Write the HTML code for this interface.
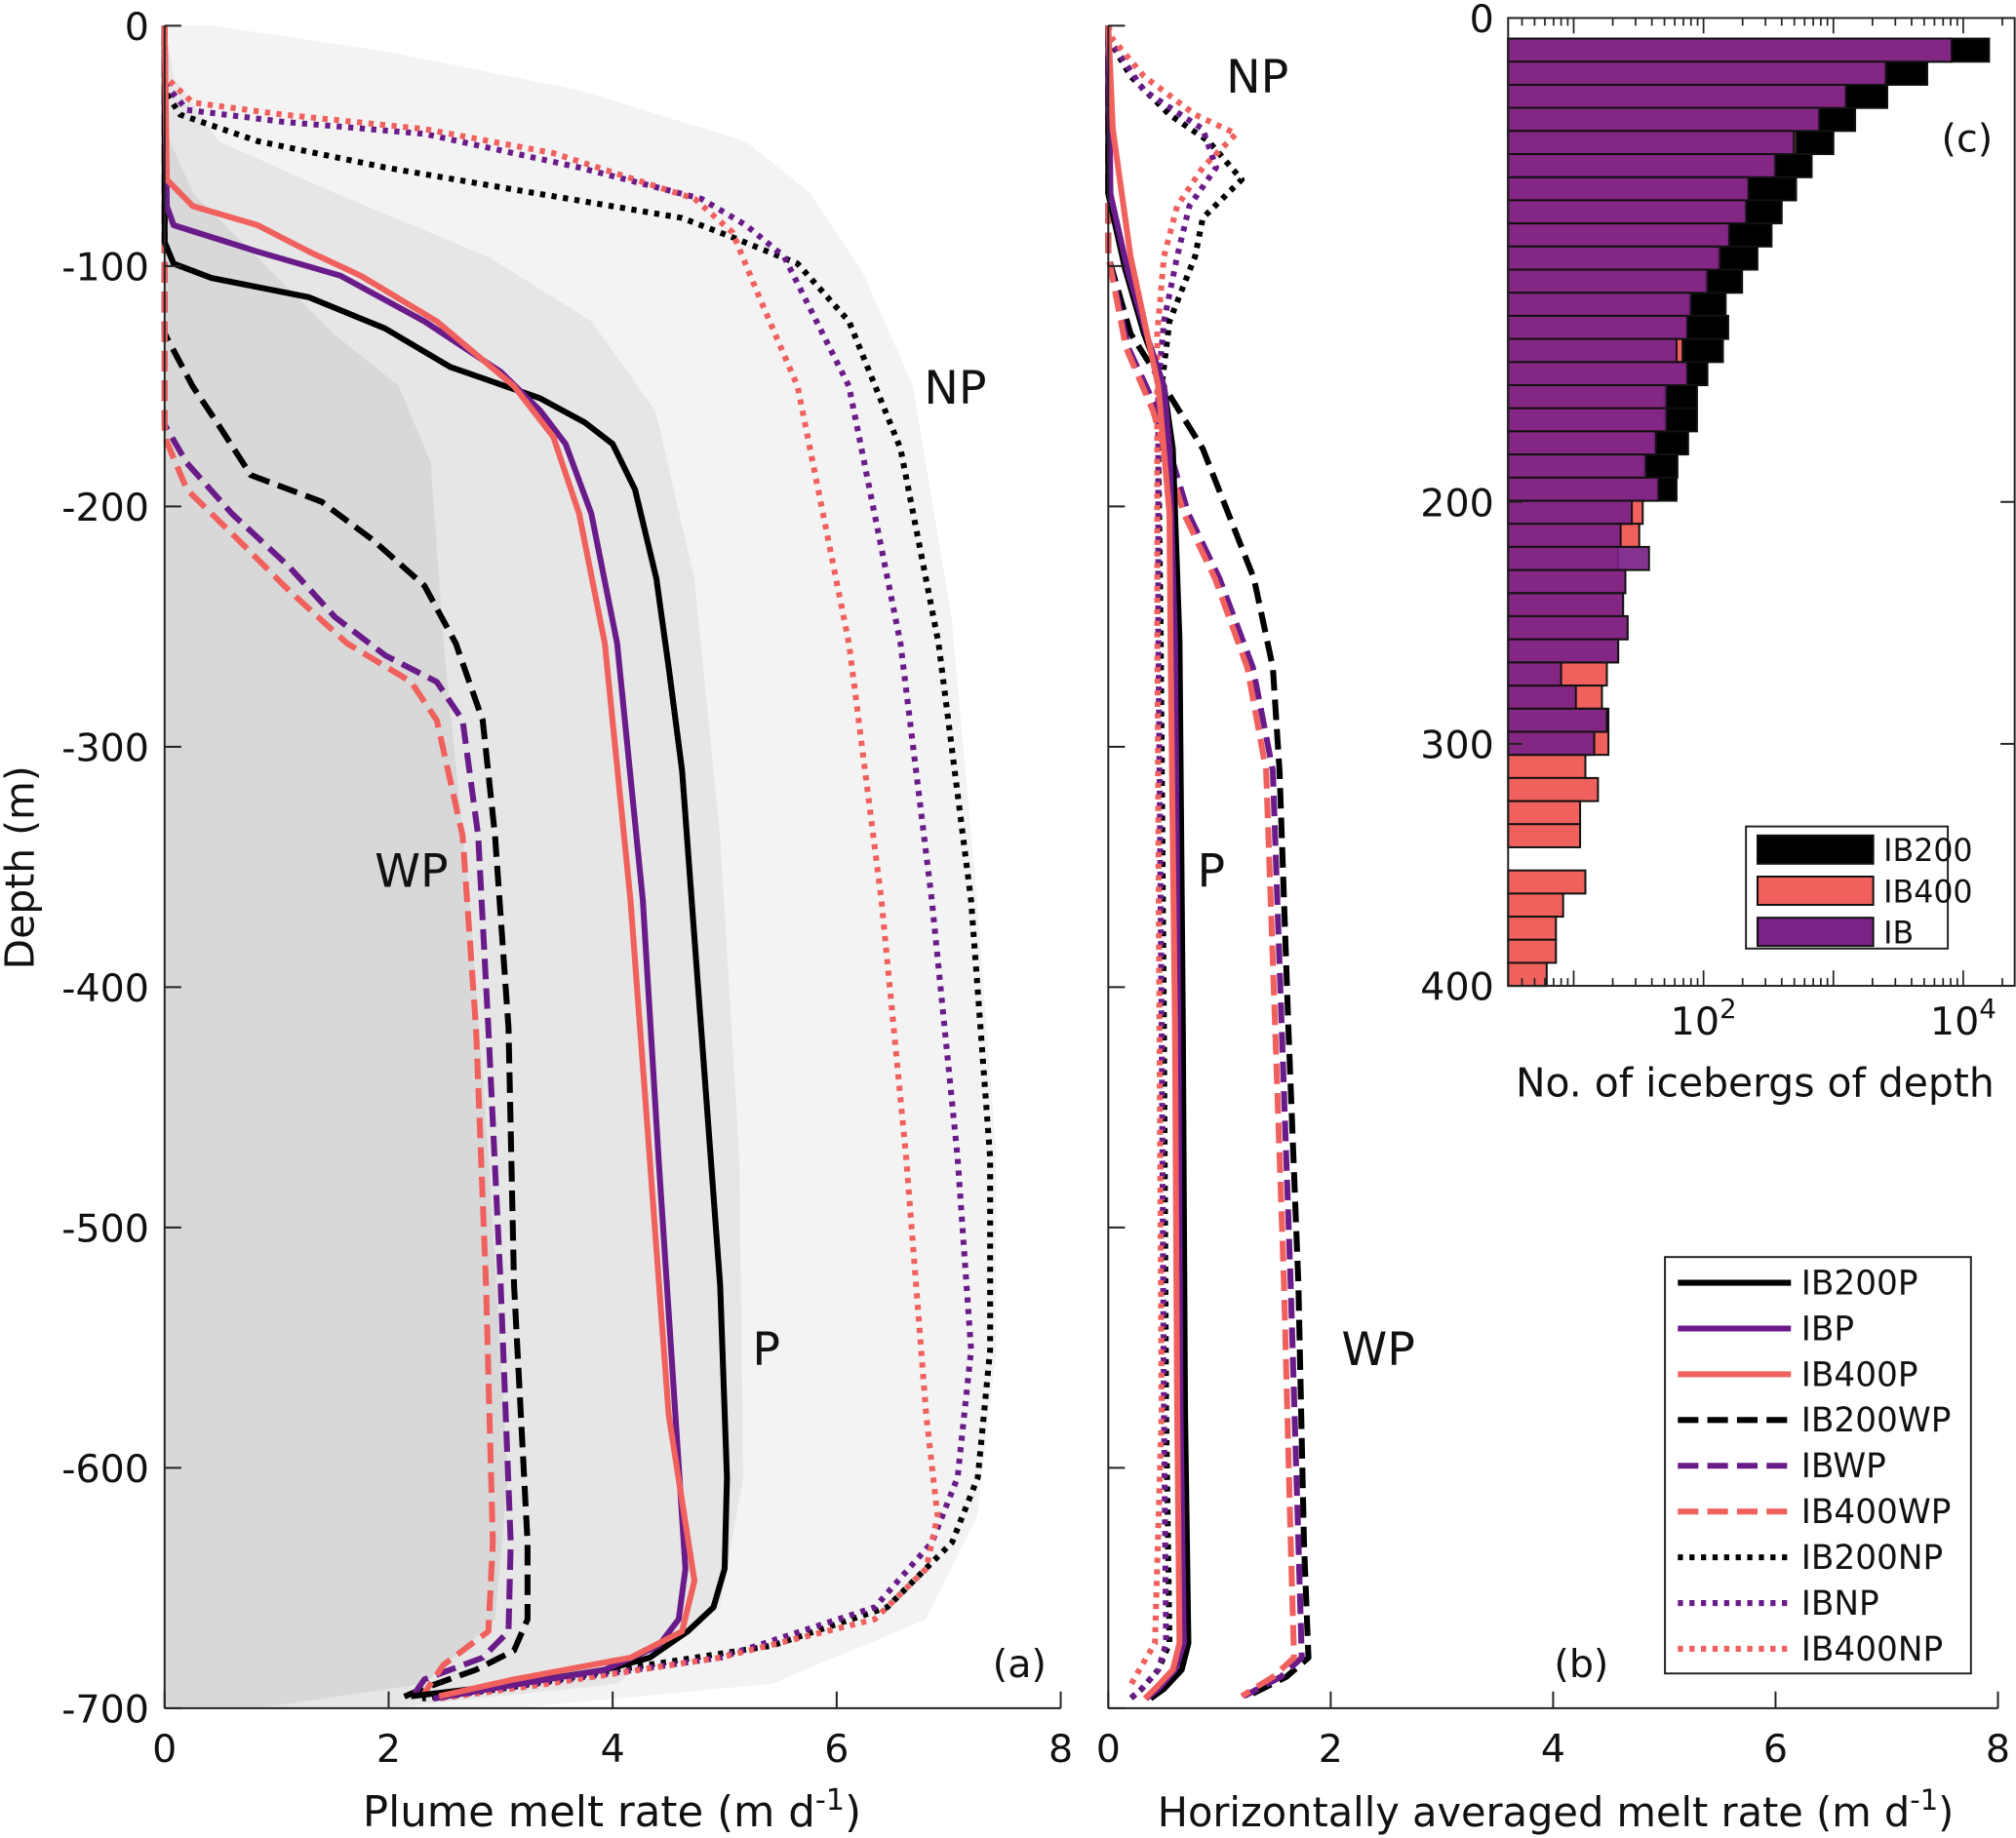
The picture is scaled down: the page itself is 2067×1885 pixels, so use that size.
<!DOCTYPE html>
<html><head><meta charset="utf-8">
<style>
html,body{margin:0;padding:0;background:#fff;}
svg{display:block;font-family:"DejaVu Sans","Liberation Sans",sans-serif;}
</style></head>
<body>
<svg id="chart" width="2067" height="1885" viewBox="0 0 1568 1430" xmlns="http://www.w3.org/2000/svg">
<g id="shade"></g>
<g id="pa"></g>
<g id="pb"></g>
<g id="pc"></g>
<g id="axes"></g>
</svg>
<script>
// ---------- data ----------
const seriesNames = ["IB200P","IBP","IB400P","IB200WP","IBWP","IB400WP","IB200NP","IBNP","IB400NP"];
const seriesColors = ["#000000","#6a1b8a","#f0605d","#000000","#6a1b8a","#f0605d","#000000","#6a1b8a","#f0605d"];
const seriesStyle = ["solid","solid","solid","dash","dash","dash","dot","dot","dot"];
// panel (a): depth (m) and plume melt rate (m/d)
const aDepth = [
 [0,90,99,105,113,126,142,155,165,174,193,230,267,310,417,524,604,642,658,668,679,684,690,695],
 [0,75,83,94,104,123,144,160,174,203,257,364,471,578,642,663,674,684,692,696],
 [0,64,75,83,94,104,123,150,171,203,257,364,471,578,647,668,679,688,695],
 [0,128,150,166,187,198,214,233,257,289,337,417,524,631,663,676,684,692,696],
 [0,166,182,203,225,246,262,273,289,337,417,524,631,668,679,688,696],
 [0,171,193,214,235,257,273,289,337,417,524,631,668,682,695],
 [0,27,37,48,59,70,80,88,99,123,176,257,364,471,551,604,631,658,674,684,692,696],
 [0,24,35,40,45,59,72,83,96,150,257,364,471,551,604,631,658,679,690,696],
 [0,21,32,37,43,53,72,86,112,150,257,364,471,578,620,642,663,679,690,696]
];
const aRate = [
 [0,0,0.08,0.42,1.29,1.97,2.55,3.35,3.75,4.0,4.2,4.39,4.5,4.62,4.79,4.96,5.02,5.0,4.9,4.67,4.33,3.93,3.12,2.2],
 [0,0.02,0.08,0.83,1.57,2.32,3.0,3.35,3.58,3.81,4.04,4.27,4.41,4.56,4.65,4.59,4.41,3.93,2.9,2.4],
 [0,0.02,0.25,0.83,1.29,1.75,2.43,3.12,3.47,3.7,3.93,4.16,4.33,4.5,4.73,4.62,4.16,3.12,2.45],
 [0,0,0.25,0.48,0.77,1.4,1.86,2.32,2.6,2.84,2.95,3.07,3.12,3.24,3.24,3.12,2.78,2.3,2.1],
 [0,0,0.2,0.6,1.11,1.52,1.97,2.43,2.66,2.8,2.89,3.0,3.09,3.07,2.84,2.32,2.2],
 [0,0,0.2,0.66,1.11,1.63,2.2,2.43,2.66,2.78,2.87,2.93,2.89,2.49,2.3],
 [0,0,0.14,0.83,1.97,3.35,4.62,5.07,5.65,6.11,6.57,6.91,7.2,7.37,7.37,7.26,7.03,6.45,5.42,4.04,3.0,2.3],
 [0,0,0.2,1.06,2.32,3.7,4.79,5.19,5.53,6.11,6.57,6.85,7.08,7.2,7.08,6.85,6.34,4.96,3.3,2.4],
 [0,0,0.25,1.06,2.32,3.47,4.73,5.07,5.3,5.65,6.11,6.4,6.62,6.8,6.9,6.8,6.34,4.96,3.4,2.45]
];
// panel (b): depth (m) and horizontally averaged melt rate (m/d)
const bDepth = [
 [0,70,101,128,150,176,256,416,577,673,684,692,696],
 [0,70,101,128,150,176,256,416,577,673,684,692,696],
 [0,43,96,150,203,256,416,577,673,684,692,696],
 [0,96,128,150,176,203,230,267,310,417,524,631,679,687,695],
 [0,96,134,160,203,230,267,310,417,524,631,679,687,695],
 [0,96,134,160,203,230,267,310,417,524,631,679,687,695],
 [0,5,21,37,48,64,80,96,123,150,176,250,416,577,673,684,692,696],
 [0,5,27,43,59,75,96,123,150,250,416,577,673,684,692,696],
 [0,5,21,37,45,59,75,96,128,166,250,416,577,673,684,692,696]
];
const bRate = [
 [0,0,0.15,0.32,0.5,0.58,0.64,0.67,0.69,0.72,0.66,0.5,0.38],
 [0,0.02,0.17,0.34,0.5,0.55,0.6,0.63,0.65,0.68,0.6,0.45,0.34],
 [0,0.04,0.2,0.45,0.55,0.56,0.6,0.62,0.64,0.58,0.42,0.33],
 [0,0,0.2,0.5,0.85,1.08,1.31,1.48,1.54,1.62,1.71,1.76,1.8,1.6,1.25],
 [0,0,0.18,0.44,0.72,1.0,1.3,1.48,1.56,1.64,1.71,1.74,1.55,1.22],
 [0,0,0.16,0.4,0.68,0.96,1.25,1.42,1.5,1.58,1.64,1.67,1.48,1.2],
 [0,0,0.2,0.55,0.9,1.2,0.85,0.78,0.55,0.48,0.45,0.47,0.5,0.52,0.55,0.45,0.3,0.2],
 [0,0,0.32,0.85,0.97,0.73,0.62,0.5,0.45,0.45,0.48,0.5,0.52,0.45,0.3,0.2],
 [0,0.03,0.32,0.78,1.15,0.85,0.62,0.5,0.44,0.44,0.44,0.46,0.48,0.42,0.28,0.18]
];
// panel (c): iceberg counts per depth bin
const binCount = 41;
const binStart = 8.5;
const binWidth = 9.55;
const countIB200 = [15800,5280,2600,1470,1000,680,516,400,334,260,198,148,155,141,107,89,89,76,63,62,32,0,0,0,0,0,0,0,0,0,0,0,0,0,0,0,0,0,0,0,0];
const countIB400 = [8100,2500,1240,770,516,350,220,210,155,130,105,78,74,69,74,50,50,42,35,44,34,32,22,25,24,26,22,18,16.5,18.5,18.5,12.3,15.4,11.2,11.2,0,12.3,8.3,7.3,7.3,6.2];
const countIB = [8150,2540,1250,780,495,358,222,213,158,134,107,80,75,62,75,52,52,43,36,45,28,23,38,25,24,26,22,8,10.4,18,14.4,0,0,0,0,0,0,0,0,0,0];
const aXTicks = [0,2,4,6,8];
const yTicks = [0,-100,-200,-300,-400,-500,-600,-700];
const cYTicks = [0,200,300,400];

// ---------- scales ----------
const NS = "http://www.w3.org/2000/svg";
const Y0 = 20, Y1 = 1329;
const yA = d => Y0 + (d / 700) * (Y1 - Y0);
const xA = v => 128 + v * (825 - 128) / 8;
const xB = v => 862 + v * (1554 - 862) / 8;
const yC = d => 14 + d * (767 - 14) / 400;
const xC = c => 1123 + Math.log10(c) * 101;
const C_LEFT = 1173, C_RIGHT = 1567, C_TOP = 14, C_BOT = 767;

function mk(tag, attrs, parent, text){
  const e = document.createElementNS(NS, tag);
  for (const k in attrs) e.setAttribute(k, attrs[k]);
  if (text !== undefined) e.textContent = text;
  parent.appendChild(e);
  return e;
}
const dashFor = s => s === "dash" ? "16,7" : (s === "dot" ? "4,5" : "none");

// ---------- shading (panel a) ----------
const shade = document.getElementById("shade");
const npEnv = [[165,20],[300,40],[450,70],[580,110],[630,150],[670,210],[710,300],[740,480],[760,700],[775,900],[775,1050],[760,1180],[720,1260],[600,1310],[400,1329],[128,1329],[128,20]];
const pEnv = [[128,20],[135,60],[170,110],[260,150],[380,200],[460,250],[510,320],[540,450],[560,650],[575,900],[578,1150],[560,1250],[480,1310],[300,1329],[128,1329]];
const wpEnv = [[128,100],[150,150],[200,200],[260,260],[310,300],[335,360],[345,500],[365,700],[380,900],[395,1150],[385,1260],[330,1310],[200,1329],[128,1329]];
[[npEnv,"#f3f3f3","np-envelope"],[pEnv,"#e6e6e6","p-envelope"],[wpEnv,"#d8d8d8","wp-envelope"]].forEach(([pts,col,nm])=>{
  const p = mk("polygon",{points:pts.map(q=>q.join(",")).join(" "),fill:col},shade);
  
  
});

// ---------- lines ----------
function drawLines(gid, depths, rates, xs, prefix){
  const g = document.getElementById(gid);
  const order = [6,7,8,3,4,5,0,1,2];
  order.forEach(i=>{
    const pts = depths[i].map((d,j)=> xs(rates[i][j]).toFixed(1)+","+yA(d).toFixed(1)).join(" ");
    const pl = mk("polyline",{points:pts,fill:"none",stroke:seriesColors[i],"stroke-width":4.6,"stroke-dasharray":dashFor(seriesStyle[i]),"stroke-linejoin":"round"},g);
    
    
  });
}
drawLines("pa", aDepth, aRate, xA, "plume-line");
drawLines("pb", bDepth, bRate, xB, "avg-line");

// ---------- bars (panel c) ----------
const pc = document.getElementById("pc");
function drawBars(arr, fill, op, nm){
  for (let i=0;i<binCount;i++){
    if (!arr[i] || arr[i] <= 0) continue;
    const top = yC(binStart + i*binWidth);
    const h = yC(binStart + (i+1)*binWidth) - top;
    const w = Math.max(0, xC(arr[i]) - C_LEFT);
    const r = mk("rect",{x:C_LEFT,y:top.toFixed(1),width:w.toFixed(1),height:h.toFixed(1),fill:fill,"fill-opacity":op,stroke:"#111","stroke-width":1.5},pc);
    
    
  }
}
drawBars(countIB200,"#000000",1,"ib200");
drawBars(countIB400,"#f0605d",1,"ib400");
drawBars(countIB,"#7b2287",0.92,"ib");

// ---------- axes ----------
const ax = document.getElementById("axes");
function txt(x,y,s,anchor,size,name){
  const t = mk("text",{x:x,y:y,"font-size":size||30,"text-anchor":anchor||"middle",fill:"#111"},ax,s);
  
  
  return t;
}
mk("line",{x1:128,y1:Y0,x2:128,y2:Y1,stroke:"#222","stroke-width":1.5},ax);
mk("line",{x1:128,y1:Y1,x2:825,y2:Y1,stroke:"#222","stroke-width":1.5},ax);
mk("line",{x1:862,y1:Y0,x2:862,y2:Y1,stroke:"#222","stroke-width":1.5},ax);
mk("line",{x1:862,y1:Y1,x2:1554,y2:Y1,stroke:"#222","stroke-width":1.5},ax);
yTicks.forEach(t=>{
  const y = yA(-t);
  mk("line",{x1:128,y1:y,x2:141,y2:y,stroke:"#222","stroke-width":1.5},ax);
  mk("line",{x1:862,y1:y,x2:875,y2:y,stroke:"#222","stroke-width":1.5},ax);
  txt(116,y+11,String(t),"end",30,"y-tick-label");
});
aXTicks.forEach(t=>{
  mk("line",{x1:xA(t),y1:Y1,x2:xA(t),y2:Y1-13,stroke:"#222","stroke-width":1.5},ax);
  txt(xA(t),Y1+42,String(t),"middle",30,"x-tick-label-a");
  mk("line",{x1:xB(t),y1:Y1,x2:xB(t),y2:Y1-13,stroke:"#222","stroke-width":1.5},ax);
  txt(xB(t),Y1+42,String(t),"middle",30,"x-tick-label-b");
});
const yl = txt(0,0,"Depth (m)","middle",31,"y-axis-title");
yl.setAttribute("transform","translate(26,675) rotate(-90)");
const xa = txt(476,1421,"","middle",33,"x-axis-title-a");
xa.innerHTML = 'Plume melt rate (m d<tspan dy="-13" font-size="23">-1</tspan><tspan dy="13">)</tspan>';
const xb = txt(1210,1421,"","middle",31.5,"x-axis-title-b");
xb.innerHTML = 'Horizontally averaged melt rate (m d<tspan dy="-13" font-size="22">-1</tspan><tspan dy="13">)</tspan>';
txt(793,1305,"(a)","middle",30,"panel-a-label");
txt(1230,1305,"(b)","middle",30,"panel-b-label");
txt(320,690,"WP","middle",36,"label-wp-a");
txt(596,1062,"P","middle",36,"label-p-a");
txt(743,314,"NP","middle",36,"label-np-a");
txt(978,72,"NP","middle",36,"label-np-b");
txt(942,690,"P","middle",36,"label-p-b");
txt(1072,1062,"WP","middle",36,"label-wp-b");
const lg = mk("g",{},ax);


mk("rect",{x:1295,y:978,width:238,height:324,fill:"#fff",stroke:"#222","stroke-width":1.5},lg);
seriesNames.forEach((n,i)=>{
  const y = 998 + i*35.6;
  const l = mk("line",{x1:1305,y1:y,x2:1393,y2:y,stroke:seriesColors[i],"stroke-width":4.6,"stroke-dasharray":dashFor(seriesStyle[i])},lg);
  
  
  const t = mk("text",{x:1401,y:y+9,"font-size":26,fill:"#111"},lg,n);
  
  
});
mk("rect",{x:C_LEFT,y:C_TOP,width:C_RIGHT-C_LEFT,height:C_BOT-C_TOP,fill:"none",stroke:"#222","stroke-width":1.5},ax);
cYTicks.forEach(t=>{
  const y = yC(t);
  mk("line",{x1:C_LEFT,y1:y,x2:C_LEFT+11,y2:y,stroke:"#222","stroke-width":1.5},ax);
  mk("line",{x1:C_RIGHT,y1:y,x2:C_RIGHT-11,y2:y,stroke:"#222","stroke-width":1.5},ax);
  txt(1162,y+11,String(t),"end",30,"c-y-tick-label");
});
for (let e=0;e<=4;e++){
  for (let m=1;m<10;m++){
    const x = xC(m*Math.pow(10,e));
    if (x < C_LEFT || x > C_RIGHT) continue;
    const len = m===1 ? 12 : 6;
    mk("line",{x1:x,y1:C_BOT,x2:x,y2:C_BOT-len,stroke:"#222","stroke-width":1.3},ax);
    mk("line",{x1:x,y1:C_TOP,x2:x,y2:C_TOP+len,stroke:"#222","stroke-width":1.3},ax);
  }
}
[2,4].forEach(e=>{
  const t = txt(xC(Math.pow(10,e)),805,"","middle",30,"c-x-tick-label");
  t.innerHTML = '10<tspan dy="-13" font-size="21">'+e+'</tspan>';
});
txt(1365,853,"No. of icebergs of depth","middle",31,"x-axis-title-c");
txt(1530,118,"(c)","middle",30,"panel-c-label");
const lc = mk("g",{},ax);


mk("rect",{x:1358,y:643,width:157,height:95,fill:"#fff",stroke:"#222","stroke-width":1.5},lc);
[["IB200","#000"],["IB400","#f0605d"],["IB","#7b2287"]].forEach(([n,c],i)=>{
  const y = 650 + i*32;
  const r = mk("rect",{x:1367,y:y,width:90,height:22,fill:c,stroke:"#111","stroke-width":1.5},lc);
  
  
  const t = mk("text",{x:1465,y:y+20,"font-size":24,fill:"#111"},lc,n);
  
  
});
</script>
</body></html>
